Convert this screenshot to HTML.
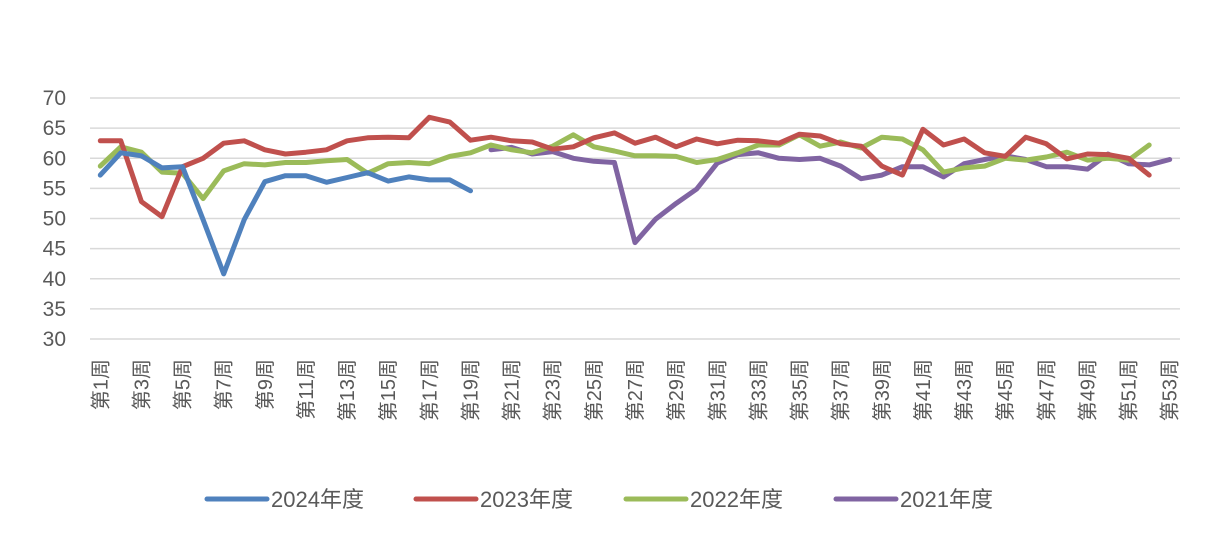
<!DOCTYPE html>
<html><head><meta charset="utf-8"><style>
body{margin:0;background:#fff;}
svg text{font-family:"Liberation Sans","Noto Sans CJK SC",sans-serif;fill:#595959;}
</style></head><body>
<svg id="chart" width="1208" height="532" viewBox="0 0 1208 532" xmlns="http://www.w3.org/2000/svg">
<g id="grid"></g>
<g id="yaxis"></g>
<g id="xaxis"></g>
<g id="series"></g>
<g id="legend"></g>
</svg>
<script>
const weeks = Array.from({length:53},(_,i)=>'第'+(i+1)+'周');
const yTicks = [30,35,40,45,50,55,60,65,70];
const names = ['2024年度','2023年度','2022年度','2021年度'];
const colors = ['#4f81bd','#c0504d','#9bbb59','#8064a2'];
const s2024 = [57.2,60.9,60.4,58.4,58.6,49.8,40.8,49.8,56.1,57.1,57.1,56.0,56.8,57.6,56.2,56.9,56.4,56.4,54.6];
const s2023 = [62.9,62.9,52.8,50.3,58.6,60.0,62.5,62.9,61.4,60.7,61.0,61.4,62.9,63.4,63.5,63.4,66.8,66.0,63.0,63.5,62.9,62.7,61.5,61.9,63.4,64.2,62.5,63.5,61.9,63.2,62.4,63.0,62.9,62.5,64.0,63.7,62.4,62.0,58.7,57.2,64.8,62.2,63.2,60.9,60.3,63.5,62.4,59.9,60.7,60.6,60.0,57.2];
const s2022 = [58.7,61.9,61.0,57.7,57.5,53.3,57.9,59.1,58.9,59.3,59.3,59.6,59.8,57.5,59.1,59.3,59.1,60.3,60.9,62.2,61.4,60.9,62.0,63.9,61.9,61.2,60.4,60.4,60.3,59.3,59.8,60.9,62.2,62.2,63.9,62.0,62.7,61.7,63.5,63.2,61.4,57.7,58.4,58.7,60.0,59.7,60.2,61.0,59.7,60.0,59.7,62.2];
const s2021Start = 20;
const s2021 = [61.4,61.8,60.7,61.1,60.0,59.5,59.3,46.0,49.9,52.5,54.9,59.2,60.6,60.9,60.0,59.8,60.0,58.7,56.6,57.2,58.6,58.6,56.9,59.1,59.8,60.4,59.8,58.6,58.6,58.2,60.7,59.1,58.9,59.8];

const NS='http://www.w3.org/2000/svg';
const L=90,R=1180,T=98,B=339;
const band=(R-L)/weeks.length;
const x=i=>L+band*(i+0.5);
const y=v=>B-(v-30)/(70-30)*(B-T);
function mk(tag,attrs,parent){const e=document.createElementNS(NS,tag);for(const k in attrs)e.setAttribute(k,attrs[k]);parent.appendChild(e);return e;}
const grid=document.getElementById('grid'),ya=document.getElementById('yaxis'),xa=document.getElementById('xaxis'),sg=document.getElementById('series'),lg=document.getElementById('legend');
yTicks.forEach(t=>{
  const ln=mk('line',{x1:L,x2:R,y1:y(t),y2:y(t),stroke:'#d9d9d9','stroke-width':1.5},grid);
  
  
  const tx=mk('text',{x:66,y:y(t)+7,'text-anchor':'end','font-size':21},ya);
  tx.textContent=t;
  
  
});
weeks.forEach((w,i)=>{
  if(i%2) return;
  const tx=mk('text',{transform:`translate(${x(i)+7},359) rotate(-90)`,'text-anchor':'end','font-size':20},xa);
  tx.textContent=w;
  
  
});
const all=[[s2024,0],[s2023,0],[s2022,0],[s2021,s2021Start-1]];
[3,2,1,0].forEach(k=>{
  const [d,off]=all[k];
  const pts=d.map((v,i)=>x(i+off).toFixed(1)+','+y(v).toFixed(1)).join(' ');
  const p=mk('polyline',{points:pts,fill:'none',stroke:colors[k],'stroke-width':5,'stroke-linejoin':'round','stroke-linecap':'round'},sg);
  
  
});
const lx=[207,416,626,836];
names.forEach((n,k)=>{
  const ln=mk('line',{x1:lx[k],x2:lx[k]+60,y1:499,y2:499,stroke:colors[k],'stroke-width':5,'stroke-linecap':'round'},lg);
  
  
  const tx=mk('text',{x:lx[k]+64,y:507,'font-size':22},lg);
  tx.textContent=n;
  
  
});
</script>
</body></html>
